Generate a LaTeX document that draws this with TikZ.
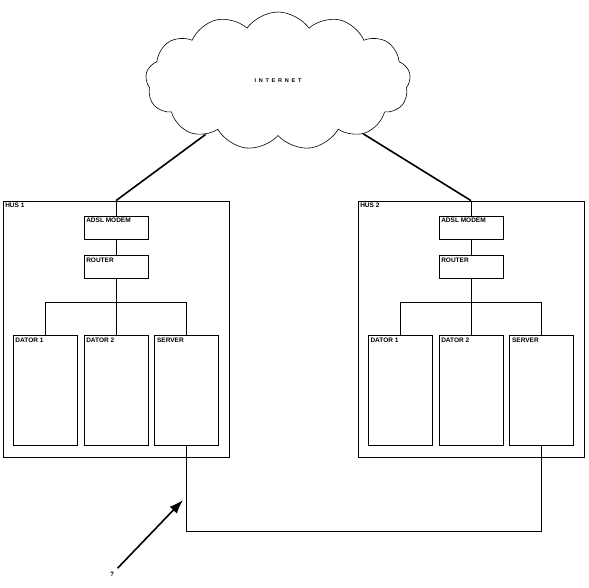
\documentclass[tikz,border=0pt]{standalone}
\usepackage{fontspec}
\setsansfont{Liberation Sans}
\usepackage{tikz}
\usetikzlibrary{shapes,arrows.meta,positioning,calc}

\begin{document}
\begin{tikzpicture}[x=1pt, y=-1pt,
    every node/.style={font=\sffamily\bfseries\fontsize{6.5}{7.5}\selectfont},
    box/.style={draw, line width=0.8pt, minimum width=64pt, minimum height=23pt, inner sep=0pt},
    pc/.style={box, minimum height=110pt},
    house/.style={draw, line width=0.8pt, minimum width=226pt, minimum height=256pt, inner sep=0pt},
    tag/.style={label={[anchor=north west, inner sep=2.5pt]north west:#1}},
    wire/.style={line width=0.8pt},
    link/.style={line width=1.6pt}]
    \useasboundingbox (0,0) rectangle (589,587);

    \node[cloud, draw, line width=0.6pt, cloud puffs=13, cloud puff arc=110, aspect=2.1, minimum width=265pt, minimum height=138pt] (net) at (278,81) {\fontsize{5.5}{6}\selectfont\addfontfeature{LetterSpace=50}INTERNET};

    % hus 1
    \node[house, tag={HUS 1}] (hus1) at (116,329) {};
    \node[box, tag={ADSL MODEM}] (modem1) at (116,227.5) {};
    \node[box, below=16pt of modem1, tag={ROUTER}] (router1) {};
    \node[pc, below=56pt of router1, tag={DATOR 2}] (dator12) {};
    \node[pc, left=6pt of dator12, tag={DATOR 1}] (dator11) {};
    \node[pc, right=6pt of dator12, tag={SERVER}] (server1) {};

    % hus 2
    \node[house, tag={HUS 2}] (hus2) at (471,329) {};
    \node[box, tag={ADSL MODEM}] (modem2) at (471,227.5) {};
    \node[box, below=16pt of modem2, tag={ROUTER}] (router2) {};
    \node[pc, below=56pt of router2, tag={DATOR 2}] (dator22) {};
    \node[pc, left=6pt of dator22, tag={DATOR 1}] (dator21) {};
    \node[pc, right=6pt of dator22, tag={SERVER}] (server2) {};

    \foreach \h in {1,2} {
      \draw[wire] (hus\h.north) -- (modem\h);
      \draw[wire] (modem\h) -- (router\h);
      \draw[wire] (router\h) -- (dator\h2);
      \draw[wire] (dator\h1.north) |- ($(router\h.south)!0.41!(dator\h2.north)$) -| (server\h.north);
      \draw[link] (hus\h.north) -- (net);
    }

    \draw[wire] (server1.south) -- ++(0,85) -| (server2.south);

    \node (ask) at (112,574) {?};
    \coordinate (hit) at (183,500);
    \draw[link, -{Latex[length=14pt, width=10pt]}] (ask) -- (hit);
\end{tikzpicture}
\end{document}
